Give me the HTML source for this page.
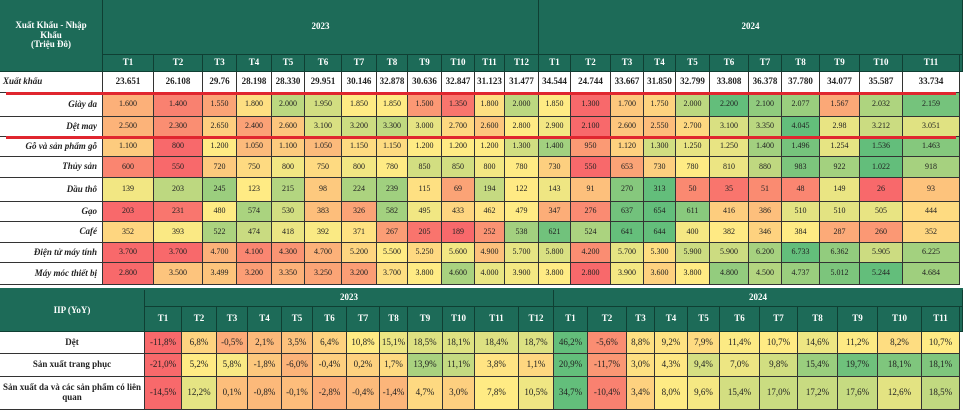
<!DOCTYPE html>
<html><head><meta charset="utf-8">
<style>
html,body{margin:0;padding:0;background:#fff;}
#root{position:relative;width:963px;height:410px;overflow:hidden;background:#fff;font-family:"Liberation Serif","Noto Serif CJK SC",serif;}
.c{position:absolute;box-sizing:border-box;display:flex;align-items:center;justify-content:center;text-align:center;font-size:9px;color:#222;border-right:1px solid #333;border-bottom:1px solid #333;line-height:1.1;}
.h{background:#1d6b58;color:#fff;font-weight:bold;border-color:#0f3f33;}
.lab{justify-content:flex-end;padding-right:5px;font-style:italic;font-weight:bold;background:#fff;}
.lab2{justify-content:center;font-weight:bold;background:#fff;}
.redline{position:absolute;height:3px;background:#e0262f;}
</style></head>
<body>
<div id="root"></div>
<script>
const topMonths=["T1","T2","T3","T4","T5","T6","T7","T8","T9","T10","T11","T12","T1","T2","T3","T4","T5","T6","T7","T8","T9","T10","T11"];
const exportTotals=["23.651","26.108","29.76","28.198","28.330","29.951","30.146","32.878","30.636","32.847","31.123","31.477","34.544","24.744","33.667","31.850","32.799","33.808","36.378","37.780","34.077","35.587","33.734"];
const productNames=["Giày da","Dệt may","Gỗ và sản phẩm gỗ","Thủy sản","Dầu thô","Gạo","Café","Điện tử máy tính","Máy móc thiết bị"];
const giayDa=[1600,1400,1550,1800,2000,1950,1850,1850,1500,1350,1800,2000,1850,1300,1700,1750,2000,2200,2100,2077,1567,2032,2159];
const detMay=[2500,2300,2650,2400,2600,3100,3200,3300,3000,2700,2600,2800,2900,2100,2600,2550,2700,3100,3350,4045,2980,3212,3051];
const goSp=[1100,800,1200,1050,1100,1050,1150,1150,1200,1200,1200,1300,1400,950,1120,1300,1250,1250,1400,1496,1254,1536,1463];
const thuySan=[600,550,720,750,800,750,800,780,850,850,800,780,730,550,653,730,780,810,880,983,922,1022,918];
const dauTho=[139,203,245,123,215,98,224,239,115,69,194,122,143,91,270,313,50,35,51,48,149,26,93];
const gao=[203,231,480,574,530,383,326,582,495,433,462,479,347,276,637,654,611,416,386,510,510,505,444];
const cafe=[352,393,522,474,418,392,371,267,205,189,252,538,621,524,641,644,400,382,346,384,287,260,352];
const dienTu=[3700,3700,4700,4100,4300,4700,5200,5500,5250,5600,4900,5700,5800,4200,5700,5300,5900,5900,6200,6733,6362,5905,6225];
const mayMoc=[2800,3500,3499,3200,3350,3250,3200,3700,3800,4600,4000,3900,3800,2800,3900,3600,3800,4800,4500,4737,5012,5244,4684];
const productSeries=[giayDa,detMay,goSp,thuySan,dauTho,gao,cafe,dienTu,mayMoc];
const productLabelOverrides={1:{19:"4.045",20:"2.98"}};
const iipNames=["Dệt","Sản xuất trang phục","Sản xuất da và các sản phẩm có liên quan"];
const iipDet=[-11.8,6.8,-0.5,2.1,3.5,6.4,10.8,15.1,18.5,18.1,18.4,18.7,46.2,-5.6,8.8,9.2,7.9,11.4,10.7,14.6,11.2,8.2,10.7];
const iipTrangPhuc=[-21.0,5.2,5.8,-1.8,-6.0,-0.4,0.2,1.7,13.9,11.1,3.8,1.1,20.9,-11.7,3.0,4.3,9.4,7.0,9.8,15.4,19.7,18.1,18.1];
const iipDa=[-14.5,12.2,0.1,-0.8,-0.1,-2.8,-0.4,-1.4,4.7,3.0,7.8,10.5,34.7,-10.4,3.4,8.0,9.6,15.4,17.0,17.2,17.6,12.6,18.5];
const iipSeries=[iipDet,iipTrangPhuc,iipDa];

const root=document.getElementById('root');
const topX=[0,103,154,203,237,272,305,342,377,408,442,475,505,539,571,611,644,676,710,749,782,820,860,903,960];
const topRowY=[93,117,137,157,178,202,222,243,263,285];
const botX=[0,145,182,217,248,282,313,347,380,408,443,475,519,554,588,627,655,688,720,760,798,838,878,922,960];
const botRowY=[332,354,377,410];

function lerp(a,b,t){return Math.round(a+(b-a)*t);}
function mix(c1,c2,t){return 'rgb('+lerp(c1[0],c2[0],t)+','+lerp(c1[1],c2[1],t)+','+lerp(c1[2],c2[2],t)+')';}
const RED=[248,105,107],YEL=[255,235,132],GRN=[99,190,123];
function scale(arr){
  const s=[...arr].sort((a,b)=>a-b);const mn=s[0],mx=s[s.length-1];
  const n=s.length,mid=n%2?s[(n-1)/2]:(s[n/2-1]+s[n/2])/2;
  return v=>{ if(v<=mid){const t=mid===mn?1:(v-mn)/(mid-mn);return mix(RED,YEL,t);} const t=mx===mid?0:(v-mid)/(mx-mid);return mix(YEL,GRN,t);};
}
function fmtThousand(v){ if(v<1000) return String(v); const th=Math.floor(v/1000), r=v%1000; return th+'.'+String(r).padStart(3,'0'); }
function fmtPct(v){ return v.toFixed(1).replace('.',',')+'%'; }

function cell(x,y,w,h,cls,txt,bg){
  const d=document.createElement('div');
  d.className='c '+cls;
  d.style.left=x+'px';d.style.top=y+'px';d.style.width=w+'px';d.style.height=h+'px';
  if(bg) d.style.background=bg;
  d.textContent=txt;
  root.appendChild(d);
  return d;
}

let e=cell(0,0,103,72,'h','Xuất Khẩu - Nhập\nKhẩu\n(Triệu Đô)');
e.style.whiteSpace='pre-line';e.style.fontSize='9px';


e=cell(103,0,539-103,55,'h','2023');


e=cell(539,0,963-539,55,'h','2024');


topMonths.forEach((m,i)=>{
  const d=cell(topX[i+1],55,topX[i+2]-topX[i+1],17,'h',m);
  
  
});
cell(960,55,3,17,'h','');
e=cell(0,72,103,21,'lab','Xuất khẩu');
e.style.justifyContent='flex-start';e.style.paddingLeft='3px';


exportTotals.forEach((v,i)=>{
  const d=cell(topX[i+1],72,topX[i+2]-topX[i+1],21,'',v);
  d.style.fontWeight='bold';d.style.background='#fff';
  
  
});
productSeries.forEach((arr,r)=>{
  const y=topRowY[r],h=topRowY[r+1]-y;
  const lb=cell(0,y,103,h,'lab',productNames[r]);
  
  
  const sc=scale(arr);
  arr.forEach((v,i)=>{
    const ov=productLabelOverrides[r]&&productLabelOverrides[r][i];
    const d=cell(topX[i+1],y,topX[i+2]-topX[i+1],h,'',ov||fmtThousand(v),sc(v));
    d.style.fontSize='8px';
    
    
  });
});
[92,136].forEach(y=>{
  const l=document.createElement('div');l.className='redline';
  l.style.left='6px';l.style.width='950px';l.style.top=y+'px';
  
  
  root.appendChild(l);
});
const sep=document.createElement('div');
sep.style.cssText='position:absolute;left:0;top:285px;width:963px;height:5px;background:#fff;border-bottom:2px solid #1d6b58;box-sizing:border-box;';


root.appendChild(sep);

e=cell(0,290,145,42,'h','IIP (YoY)');


e=cell(145,290,554-145,17,'h','2023');


e=cell(554,290,963-554,17,'h','2024');


topMonths.forEach((m,i)=>{
  const d=cell(botX[i+1],307,botX[i+2]-botX[i+1],25,'h',m);
  
  
});
cell(960,307,3,25,'h','');
iipSeries.forEach((arr,r)=>{
  const y=botRowY[r],h=botRowY[r+1]-y;
  const lb=cell(0,y,145,h,'lab2',iipNames[r]);
  
  
  const sc=scale(arr);
  arr.forEach((v,i)=>{
    const d=cell(botX[i+1],y,botX[i+2]-botX[i+1],h,'',fmtPct(v),sc(v));
    
    
  });
});
</script>
</body></html>
